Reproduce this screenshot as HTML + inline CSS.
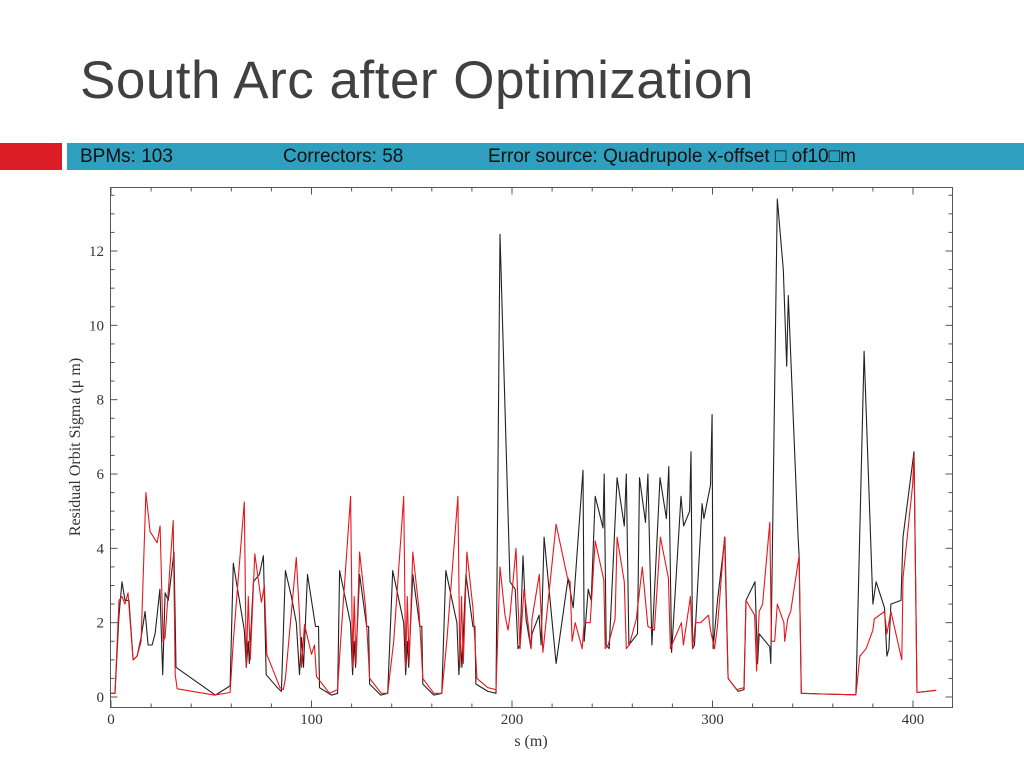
<!DOCTYPE html>
<html><head><meta charset="utf-8"><style>
html,body{margin:0;padding:0;background:#fff;}
body{width:1024px;height:768px;position:relative;overflow:hidden;font-family:"Liberation Sans",sans-serif;}
#title{position:absolute;left:80px;top:50px;font-size:53px;color:#404040;letter-spacing:0.5px;}
#redblock{position:absolute;left:0;top:143px;width:62px;height:27px;background:#dc1f26;}
#bar{position:absolute;left:67px;top:143px;width:957px;height:27px;background:#2e9fbf;}
.bt{position:absolute;top:146px;font-size:19px;color:#111;}
svg{position:absolute;left:0;top:0;}
</style></head><body>
<div id="title">South Arc after Optimization</div>
<div id="redblock"></div>
<div id="bar"></div>
<div class="bt" style="left:80px">BPMs: 103</div>
<div class="bt" style="left:283px">Correctors: 58</div>
<div class="bt" style="left:488px">Error source: Quadrupole x-offset □ of10□m</div>
<svg id="chart" width="1024" height="768"></svg>
<script>
const xTicks=[0,100,200,300,400];
const yTicks=[0,2,4,6,8,10,12];
const sBlack=[0,2,4,5.5,7,9,11,13,15,17,18.5,20.5,22,24.4,25.8,27,28.6,31.4,32.4,52,59.4,61,66.5,67.5,68.5,69,71,74,76,77.4,83,85,
87,90,92.4,94,95,96,98,102,103.5,104,110,113,
114,119.4,120.5,121.3,122,124,127.5,128.5,129,134.5,138,
140.5,146,147,147.8,148.5,150.5,154,155,155.5,161,165,
167,172.5,173.5,174.3,175,177,180.5,181.5,182,188,192,
194,199,201.6,203,204,205.5,207,209.5,210,213.5,214.5,216,222,228,230.5,235.4,236,238,239.5,241.5,245.4,246,247,248.5,252.4,256,257,258.3,262.6,263.6,266.6,267.8,269.8,273.8,277,278.2,279.6,284.3,285.6,288.6,289.3,290,291,294.8,295.7,299,299.8,300.3,302.5,306.2,307.8,312.8,315.7,316.7,321.2,322.5,323.3,328.6,329.1,332.3,335.3,337,337.8,342.7,343.2,344.3,355,371.5,375.6,380,381.6,385.8,387,388,389,394,395,400.5,402,411.5];
const vBlack=[0.1,0.1,2.2,3.1,2.6,2.6,1.0,1.1,1.6,2.3,1.4,1.4,1.7,2.9,0.6,2.8,2.6,3.9,0.8,0.05,0.3,3.6,1.8,0.8,1.5,0.9,3.1,3.3,3.8,0.6,0.25,0.15,
3.4,2.7,2.0,0.6,1.6,0.8,3.3,1.9,1.9,0.25,0.05,0.1,
3.4,2.0,0.6,1.5,0.8,3.3,1.9,1.9,0.35,0.05,0.1,
3.4,2.0,0.6,1.5,0.8,3.3,1.9,1.9,0.35,0.05,0.1,
3.4,2.0,0.6,1.5,0.8,3.3,1.9,1.9,0.35,0.15,0.1,
12.45,3.1,2.9,1.3,1.4,3.8,2.1,1.3,1.7,2.2,1.4,4.3,0.9,3.2,2.4,6.1,1.5,2.9,2.6,5.4,4.55,6.0,1.4,1.3,5.9,4.6,6.0,1.4,1.7,5.9,4.7,6.0,1.4,5.9,4.8,6.2,1.2,5.4,4.6,5.0,6.6,1.3,1.4,5.2,4.8,5.7,7.6,1.3,2.6,4.3,0.5,0.15,0.2,2.6,3.1,0.9,1.7,1.35,0.9,13.4,11.5,8.9,10.8,4.3,3.8,0.1,0.08,0.06,9.3,2.5,3.1,2.4,1.1,1.3,2.5,2.6,4.3,6.6,0.12,0.18];
const sRed=[0,2,4,5.5,7,8.5,11,13,15,17.4,19.5,23,24.5,26,27,31,32,33,51.5,59.4,61,66.5,67.5,68.5,69.5,71.7,75,76.5,77.7,84.3,86,
87,92.4,94,95,96.5,100,101.5,102.5,109,113,
114.5,119.5,120.5,121.3,122.2,124,127,128,129,134.8,138,
141,146,147,147.8,148.7,150.5,153.5,154.5,155.5,161,165,
167.5,173,174,174.8,175.7,177.5,180.5,181.5,182.5,188,192,
194,196.5,198,199,202,203,204,206,209.5,210,213.6,215.4,222,227.7,229,230,231.5,235,236,239,241.5,245.8,246.5,248,251.4,252.4,256,257,258.5,262,265,267.8,271,274,278,279,280.5,284.5,285.5,289,290,291.5,294,298,299,301,302.5,306,307.8,312,315.7,316.7,321,322,323.3,325,328.6,329.4,331,332.3,335.6,336,337.5,339,343.2,344.3,355,371.5,373.5,376.6,380,380.7,385.8,387,389,394.4,395,399.8,400.5,402,411.5];
const vRed=[0.1,0.1,2.6,2.7,2.5,2.8,1.0,1.1,1.5,5.5,4.45,4.15,4.6,1.5,1.6,4.75,0.6,0.22,0.05,0.12,1.5,5.25,0.8,2.7,1.0,3.85,2.55,3.0,1.15,0.25,0.2,
0.5,3.75,2.2,0.8,1.95,1.15,1.4,0.55,0.1,0.2,
1.5,5.4,0.8,2.7,0.9,3.9,2.4,1.5,0.5,0.1,0.1,
1.5,5.4,0.8,2.7,0.9,3.9,2.4,1.5,0.5,0.1,0.1,
1.5,5.4,0.8,2.7,0.9,3.9,2.4,1.5,0.5,0.25,0.2,
3.5,2.2,1.8,2.2,4.0,2.5,1.3,2.9,1.3,2.1,3.3,1.2,4.65,3.2,3.1,1.5,2.0,1.3,2.0,2.0,4.2,3.15,1.3,1.4,2.1,4.3,3.1,1.3,1.4,2.1,3.5,1.9,1.8,4.3,3.2,1.3,1.5,2.0,1.4,2.7,1.3,2.0,2.0,2.2,1.8,1.3,1.9,4.3,0.5,0.2,0.25,2.6,2.2,0.7,2.3,2.5,4.7,1.5,1.5,2.5,2.0,1.5,2.1,2.3,3.8,0.1,0.08,0.06,1.1,1.3,1.8,2.1,2.3,1.7,2.3,1.0,3.2,5.7,6.5,0.12,0.18];

const L=110.5,R=952.5,T=187.5,B=707.5;
const X=s=>111+s*(913-111)/400;
const Y=v=>697-v*(697-251)/12;
const NS='http://www.w3.org/2000/svg';
const svg=document.getElementById('chart');
function mk(tag,attrs){const e=document.createElementNS(NS,tag);for(const k in attrs)e.setAttribute(k,attrs[k]);svg.appendChild(e);return e;}

const frame=mk('rect',{x:L,y:T,width:R-L,height:B-T,fill:'none',stroke:'#555','stroke-width':1});



// x ticks: major every 100, minor every 20
for(let s=0;s<=420;s+=20){
  const px=X(s);if(px>R)break;
  const len=(s%100===0)?7:4;
  const t1=mk('line',{x1:px,y1:B,x2:px,y2:B-len,stroke:'#555','stroke-width':1});
  
  
  const t2=mk('line',{x1:px,y1:T,x2:px,y2:T+len,stroke:'#555','stroke-width':1});
  
  
}
xTicks.forEach(s=>{
  const t=mk('text',{x:X(s),y:724,'text-anchor':'middle','font-size':15,'font-family':'Liberation Serif, serif',fill:'#333'});
  t.textContent=s;
  
  
});
// y ticks: major every 2, minor every 0.5
for(let v=0;v<=13.5;v+=0.5){
  const py=Y(v);
  const len=(v%2===0)?7:4;
  const t1=mk('line',{x1:L,y1:py,x2:L+len,y2:py,stroke:'#555','stroke-width':1});
  
  
  const t2=mk('line',{x1:R,y1:py,x2:R-len,y2:py,stroke:'#555','stroke-width':1});
  
  
}
yTicks.forEach(v=>{
  const t=mk('text',{x:104,y:Y(v)+5,'text-anchor':'end','font-size':15,'font-family':'Liberation Serif, serif',fill:'#333'});
  t.textContent=v;
  
  
});
const xt=mk('text',{x:531,y:746,'text-anchor':'middle','font-size':16,'font-family':'Liberation Serif, serif',fill:'#333'});
xt.textContent='s (m)';


const yt=mk('text',{x:80,y:447,'text-anchor':'middle','font-size':16,'font-family':'Liberation Serif, serif',fill:'#333',transform:'rotate(-90 80 447)'});
yt.textContent='Residual Orbit Sigma (μ m)';



function series(sArr,vArr,color,name){
  const d=sArr.map((s,i)=>(i?'L':'M')+X(s).toFixed(1)+' '+Y(vArr[i]).toFixed(1)).join(' ');
  const p=mk('path',{d:d,fill:'none',stroke:color,'stroke-width':1.1,'stroke-linejoin':'round'});
  
  
}
series(sBlack,vBlack,'#222','series-before-optimization');
series(sRed,vRed,'#e8161c','series-after-optimization');
</script>
</body></html>
